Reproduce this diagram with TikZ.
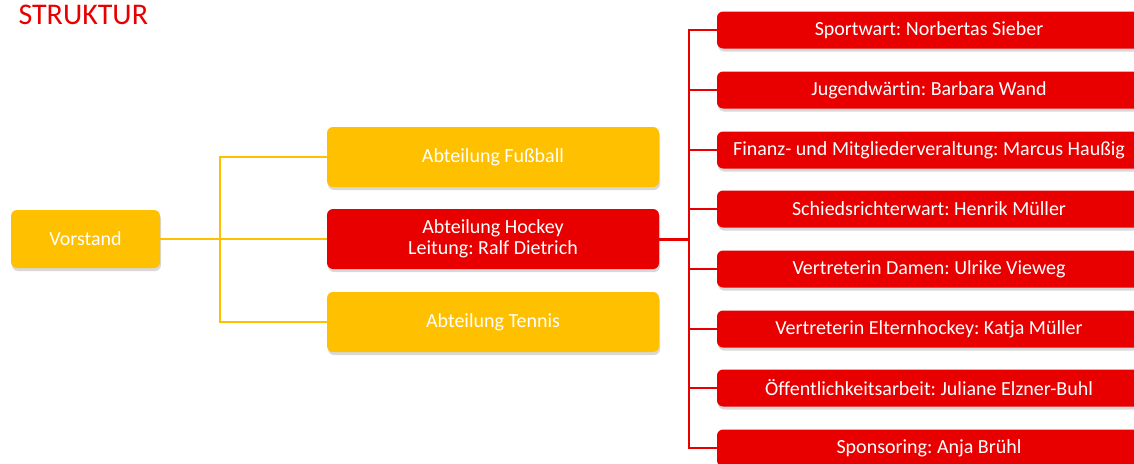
\documentclass[tikz,border=0pt]{standalone}
\usepackage{fontspec}
\setmainfont{Carlito}[Ligatures=NoCommon]
\frenchspacing
\usetikzlibrary{shadows}
\definecolor{ClubRed}{HTML}{E80000}
\definecolor{ClubGold}{HTML}{FFC000}
\tikzset{
  unit/.style={rounded corners=6pt, text=white, align=center, inner sep=0pt,
    font=\fontsize{20}{21}\selectfont,
    drop shadow={opacity=0.3, shadow xshift=1pt, shadow yshift=-3pt}},
  goldbox/.style={unit, fill=ClubGold, minimum width=332pt, minimum height=60pt},
  redbox/.style={unit, fill=ClubRed, minimum width=424pt, minimum height=37pt},
  goldline/.style={draw=ClubGold, line width=2pt},
  redline/.style={draw=ClubRed, line width=2pt}
}
\begin{document}
\begin{tikzpicture}[x=1pt, y=-1pt]
  \clip (0,0) rectangle (1134,463);
  \fill[white] (0,0) rectangle (1134,463);

  \node[anchor=west, text=ClubRed, font=\fontsize{30}{30}\selectfont] (title) at (15,15) {STRUKTUR};

  \node[unit, fill=ClubGold, minimum width=149pt, minimum height=58pt] (vorstand) at (85.5,239) {Vorstand};

  \node[goldbox] (fussball) at (493,157) {Abteilung Fußball};
  \node[redbox, minimum width=332pt, minimum height=60pt] (hockey) at (493,239) {Abteilung Hockey\\Leitung: Ralf Dietrich};
  \node[goldbox] (tennis) at (493,322) {Abteilung Tennis};

  % gold bus
  \coordinate (gbus) at (220,239);
  \draw[goldline] (vorstand.east) -- (hockey.west);
  \draw[goldline] (gbus) |- (fussball.west);
  \draw[goldline] (gbus) |- (tennis.west);

  % hockey staff
  \foreach \i/\y/\txt in {1/30/Sportwart: Norbertas Sieber,
                          2/90/Jugendwärtin: Barbara Wand,
                          3/150/Finanz- und Mitgliederveraltung: Marcus Haußig,
                          4/209/Schiedsrichterwart: Henrik Müller,
                          5/269/Vertreterin Damen: Ulrike Vieweg,
                          6/329/Vertreterin Elternhockey: Katja Müller,
                          7/388/Öffentlichkeitsarbeit: Juliane Elzner-Buhl,
                          8/448/Sponsoring: Anja Brühl}{%
    \node[redbox] (staff\i) at (929,\y) {\txt};
  }

  \coordinate (rbus) at (689,239);
  \draw[redline, line width=3pt] (hockey.east) -- (rbus);
  \foreach \i in {1,...,8}{%
    \draw[redline] (rbus) |- (staff\i.west);
  }
\end{tikzpicture}
\end{document}
